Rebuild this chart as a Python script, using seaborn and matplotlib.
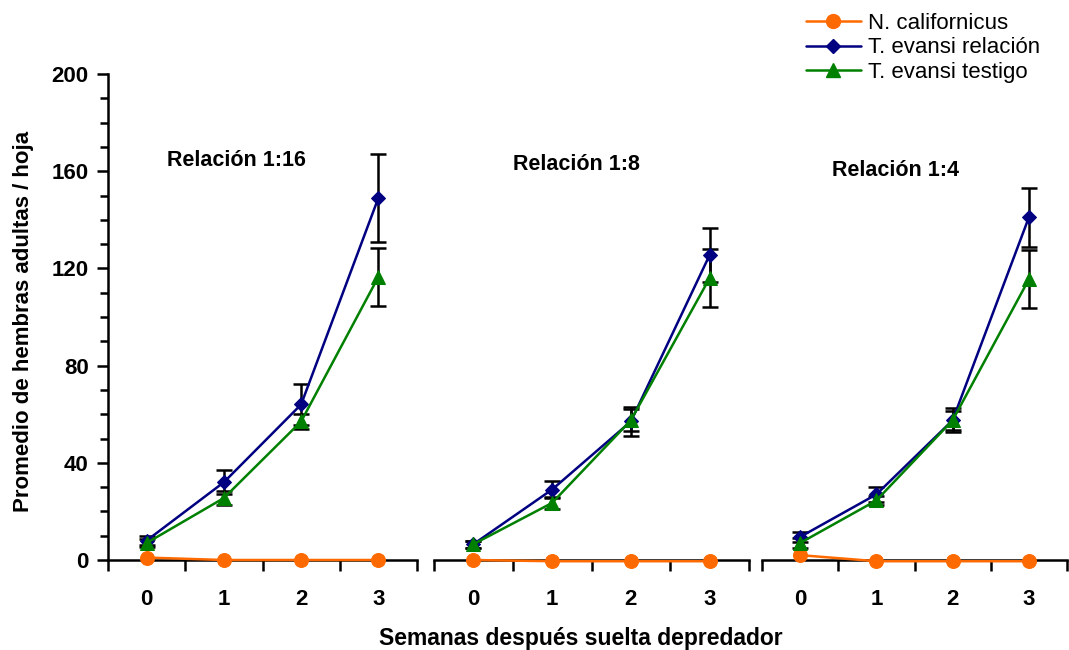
import matplotlib
matplotlib.use("Agg")
import matplotlib.pyplot as plt
from matplotlib.lines import Line2D
import numpy as np
import pandas as pd
import seaborn as sns

sns.set_theme(style="white")
plt.rcParams["font.family"] = ["Liberation Sans", "DejaVu Sans"]
plt.rcParams.update({"text.color": "black", "axes.labelcolor": "black",
                     "xtick.color": "black", "ytick.color": "black"})

# Weeks after predator release
weeks = [0, 1, 2, 3]
panels = ["Relación 1:16", "Relación 1:8", "Relación 1:4"]
series = ["N. californicus", "T. evansi relación", "T. evansi testigo"]

# Mean adult females per leaf, one list per panel
n_calif = [[1, 0, 0, 0], [0, -0.5, -0.5, -0.5], [2, -0.5, -0.5, -0.5]]
te_rel = [[8, 32, 64, 149], [6.5, 29, 57, 125.5], [9.5, 27, 57.5, 141]]
te_rel_err = [[2, 5, 8.5, 18], [1.5, 3.5, 6, 11], [2, 3, 5, 12]]
te_test = [[7, 25.5, 57, 116.5], [6.5, 23.5, 57.5, 116], [7, 24.5, 57.5, 115.5]]
te_test_err = [[1.5, 3, 3, 12], [1.5, 2.5, 4.5, 12], [2, 2, 4, 12]]

colors = {"N. californicus": "#FF6A00",
          "T. evansi relación": "#000080",
          "T. evansi testigo": "#008000"}
markers = {"N. californicus": "o",
           "T. evansi relación": "D",
           "T. evansi testigo": "^"}
msizes = {"N. californicus": 10, "T. evansi relación": 7.5, "T. evansi testigo": 10}
LW = 1.8

rows = []
for p, name in enumerate(panels):
    for i, w in enumerate(weeks):
        rows.append((name, series[0], w, n_calif[p][i], 0.0))
        rows.append((name, series[1], w, te_rel[p][i], te_rel_err[p][i]))
        rows.append((name, series[2], w, te_test[p][i], te_test_err[p][i]))
df = pd.DataFrame(rows, columns=["panel", "serie", "semana", "media", "ee"])

W, H = 1069, 650
fig = plt.figure(figsize=(W / 100, H / 100), dpi=100)
y0 = 1 - 560 / H
h = (560 - 74) / H
boxes = [(108, 417), (434, 749), (762, 1067)]
axes = [fig.add_axes([xa / W, y0, (xb - xa) / W, h]) for (xa, xb) in boxes]

title_pos = [(236, 160), (576, 165), (895, 170)]

for k, (ax, name) in enumerate(zip(axes, panels)):
    sub = df[df["panel"] == name]
    # error bars first, then lines/markers on top
    for s in series[1:]:
        d = sub[sub["serie"] == s]
        ax.errorbar(d["semana"], d["media"], yerr=d["ee"], fmt="none",
                    ecolor="black", elinewidth=LW, capsize=5.5, capthick=LW,
                    zorder=2, clip_on=False)
    for s in series:
        d = sub[sub["serie"] == s]
        sns.lineplot(data=d, x="semana", y="media", ax=ax, color=colors[s],
                     marker=markers[s], markersize=msizes[s],
                     markeredgecolor=colors[s], linewidth=LW,
                     legend=False, zorder=3, clip_on=False)
    ax.set_xlim(-0.5, 3.5)
    ax.set_ylim(0, 200)
    ax.set_xlabel("")
    ax.set_ylabel("")
    for sp in ["top", "right"]:
        ax.spines[sp].set_visible(False)
    ax.spines["bottom"].set_color("black")
    ax.spines["bottom"].set_linewidth(LW)
    ax.set_xticks(weeks)
    ax.set_xticklabels([str(w) for w in weeks], fontsize=16, fontweight="bold")
    ax.set_xticks([-0.5, 0.5, 1.5, 2.5, 3.5], minor=True)
    ax.tick_params(axis="x", which="major", length=0, pad=21)
    ax.tick_params(axis="x", which="minor", length=8, width=LW,
                   direction="out", color="black", bottom=True)
    if k == 0:
        ax.spines["left"].set_color("black")
        ax.spines["left"].set_linewidth(LW)
        ax.set_yticks([0, 40, 80, 120, 160, 200])
        ax.set_yticklabels(["0", "40", "80", "120", "160", "200"],
                           fontsize=16, fontweight="bold")
        ax.set_yticks(np.arange(0, 201, 10), minor=True)
        ax.tick_params(axis="y", which="major", length=8, width=LW,
                       direction="out", color="black", left=True, pad=6)
        ax.tick_params(axis="y", which="minor", length=6, width=LW,
                       direction="out", color="black", left=True)
        ax.set_ylabel("Promedio de hembras adultas / hoja", fontsize=16,
                      fontweight="bold")
        ax.yaxis.set_label_coords((34 - 108) / (417 - 108), 0.49)
    else:
        ax.spines["left"].set_visible(False)
        ax.set_yticks([])
    tx, ty = title_pos[k]
    fig.text(tx / W, 1 - ty / H, name, ha="center", va="center",
             fontsize=15.5, fontweight="bold")

fig.text(581 / W, 1 - 645 / H, "Semanas después suelta depredador",
         ha="center", va="baseline", fontsize=16.5, fontweight="bold")

handles = [Line2D([0], [0], color=colors[s], marker=markers[s],
                  markersize=msizes[s], markeredgecolor=colors[s], linewidth=LW)
           for s in series]
fig.legend(handles, series, loc="upper left",
           bbox_to_anchor=(790 / W, 1 + 3 / H), frameon=False,
           fontsize=16, handlelength=2.5, handletextpad=0.3,
           labelspacing=0.17, borderpad=0.2)

fig.savefig("out.png", dpi=100)
